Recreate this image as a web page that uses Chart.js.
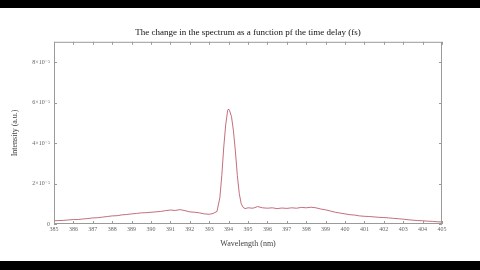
<!DOCTYPE html>
<html>
<head>
<meta charset="utf-8">
<script src="https://cdn.jsdelivr.net/npm/chart.js@4"></script>
<style>
  html, body { margin: 0; padding: 0; background: #000; }
  #wrap { position: absolute; left: 0; top: 8px; width: 480px; height: 253px; background: #fff; }
</style>
</head>
<body>
<div id="wrap"><canvas id="spectrum" width="480" height="253"></canvas></div>
<script>
// wavelength (nm) and intensity (in units of 1e-5 a.u.)
const wavelengths = [
  385.0, 385.25, 385.5, 385.75, 386.0, 386.25, 386.5, 386.75, 387.0, 387.25,
  387.5, 387.75, 388.0, 388.25, 388.5, 388.75, 389.0, 389.25, 389.5, 389.75,
  390.0, 390.25, 390.5, 390.75, 391.0, 391.25, 391.5, 391.75, 392.0, 392.25,
  392.5, 392.75, 393.0, 393.2, 393.4, 393.55, 393.65, 393.75, 393.85, 393.95,
  394.0, 394.05, 394.15, 394.25, 394.35, 394.45, 394.55, 394.65, 394.75, 394.85,
  395.0, 395.25, 395.5, 395.75, 396.0, 396.25, 396.5, 396.75, 397.0, 397.25,
  397.5, 397.75, 398.0, 398.25, 398.5, 398.75, 399.0, 399.25, 399.5, 399.75,
  400.0, 400.25, 400.5, 400.75, 401.0, 401.25, 401.5, 401.75, 402.0, 402.25,
  402.5, 402.75, 403.0, 403.25, 403.5, 403.75, 404.0, 404.25, 404.5, 404.75, 405.0
];
const intensity = [
  0.16, 0.17, 0.18, 0.20, 0.22, 0.22, 0.25, 0.27, 0.30, 0.31,
  0.34, 0.37, 0.40, 0.41, 0.45, 0.47, 0.50, 0.52, 0.55, 0.56,
  0.58, 0.60, 0.62, 0.66, 0.69, 0.67, 0.71, 0.66, 0.60, 0.58,
  0.55, 0.50, 0.48, 0.52, 0.62, 1.30, 2.40, 3.80, 4.90, 5.60,
  5.68, 5.60, 5.30, 4.60, 3.60, 2.40, 1.50, 1.00, 0.82, 0.76,
  0.80, 0.78, 0.86, 0.80, 0.78, 0.80, 0.76, 0.79, 0.77, 0.80,
  0.78, 0.82, 0.80, 0.83, 0.80, 0.74, 0.70, 0.64, 0.58, 0.54,
  0.50, 0.46, 0.44, 0.40, 0.38, 0.37, 0.35, 0.33, 0.32, 0.30,
  0.28, 0.26, 0.24, 0.21, 0.19, 0.17, 0.16, 0.14, 0.13, 0.11, 0.10
];
const yTicks = [0, 2, 4, 6, 8];

const serif = "'Liberation Serif', 'DejaVu Serif', serif";

// box around the plot with inward tick marks on all four sides
const boxPlugin = {
  id: 'box',
  afterDraw(chart) {
    const { ctx, chartArea: a, scales } = chart;
    ctx.save();
    ctx.strokeStyle = '#9a9a9a';
    ctx.lineWidth = 1;
    ctx.strokeRect(a.left + 0.5, a.top + 0.5, a.right - a.left - 1, a.bottom - a.top - 1);
    ctx.beginPath();
    scales.x.ticks.forEach(t => {
      const x = Math.round(scales.x.getPixelForValue(t.value)) + 0.5;
      ctx.moveTo(x, a.bottom); ctx.lineTo(x, a.bottom - 3);
      ctx.moveTo(x, a.top); ctx.lineTo(x, a.top + 3);
    });
    scales.y.ticks.forEach(t => {
      const y = Math.round(scales.y.getPixelForValue(t.value)) + 0.5;
      ctx.moveTo(a.left, y); ctx.lineTo(a.left + 3, y);
      ctx.moveTo(a.right, y); ctx.lineTo(a.right - 3, y);
    });
    ctx.stroke();
    ctx.restore();
  }
};

new Chart(document.getElementById('spectrum'), {
  type: 'line',
  data: {
    labels: wavelengths,
    datasets: [{
      data: wavelengths.map((w, i) => ({ x: w, y: intensity[i] })),
      borderColor: '#b44a5a',
      borderWidth: 0.8,
      pointRadius: 0,
      tension: 0,
      fill: false
    }]
  },
  options: {
    responsive: false,
    animation: false,
    layout: { padding: { left: 0, right: 38, top: 0, bottom: 0 } },
    plugins: {
      legend: { display: false },
      tooltip: { enabled: false },
      title: {
        display: true,
        fullSize: false,
        text: 'The change in the spectrum as a function pf the time delay (fs)',
        color: '#111',
        font: { family: serif, size: 9, weight: 'normal' },
        padding: { top: 19, bottom: 4 }
      }
    },
    scales: {
      x: {
        type: 'linear',
        min: 385,
        max: 405,
        ticks: {
          stepSize: 1,
          autoSkip: false,
          maxRotation: 0,
          color: '#666',
          padding: 2,
          font: { family: serif, size: 6 }
        },
        grid: { display: false, drawTicks: false, tickLength: 0 },
        border: { display: false },
        title: {
          display: true,
          text: 'Wavelength (nm)',
          color: '#444',
          font: { family: serif, size: 8 },
          padding: { top: 4, bottom: 12 }
        },
        afterFit(scale) { scale.height = 37; }
      },
      y: {
        min: 0,
        max: 9,
        afterBuildTicks(scale) { scale.ticks = yTicks.map(v => ({ value: v })); },
        ticks: {
          color: '#666',
          padding: 4,
          font: { family: serif, size: 6 },
          callback: v => v === 0 ? '0' : v + '×10⁻⁵'
        },
        grid: { display: false, drawTicks: false, tickLength: 0 },
        border: { display: false },
        title: {
          display: true,
          text: 'Intensity (a.u.)',
          color: '#444',
          font: { family: serif, size: 8 },
          padding: { top: 10, bottom: 0 }
        },
        afterFit(scale) { scale.width = 54; }
      }
    }
  },
  plugins: [boxPlugin]
});
</script>
</body>
</html>
